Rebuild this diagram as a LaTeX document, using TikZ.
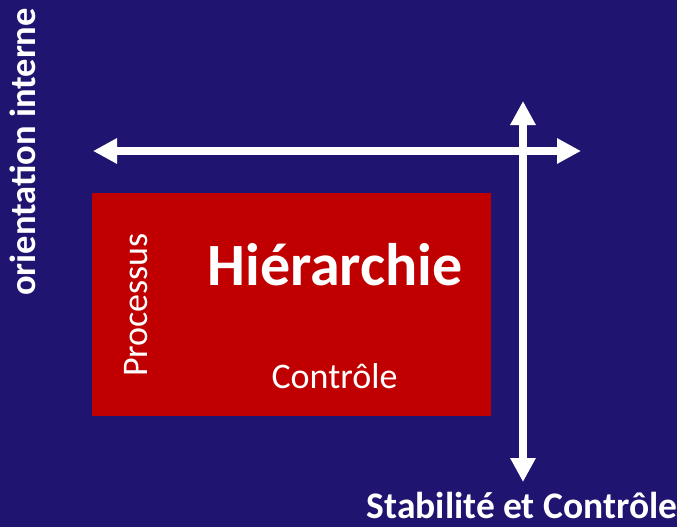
\documentclass[tikz,border=0pt]{standalone}
\usepackage{fontspec}
\setmainfont{Carlito}
\usepackage{tikz}
\usetikzlibrary{arrows.meta}

\definecolor{fondbleu}{RGB}{31,20,112}
\definecolor{rougebox}{RGB}{192,0,0}

\begin{document}
\begin{tikzpicture}[x=1pt, y=-1pt, every node/.style={text=white, inner sep=0pt},
	axe/.style={white, line width=8pt, {Triangle[length=24pt,width=24pt]}-{Triangle[length=24pt,width=24pt]}}]
	\fill[fondbleu] (0,0) rectangle (677,527);
	\useasboundingbox (0,0) rectangle (677,527);
	% bloc central
	\node[fill=rougebox, minimum width=399pt, minimum height=223pt] (H) at (291.5,304.5) {};
	\node[font=\bfseries\fontsize{60}{60}\selectfont, anchor=base] (hier) at (335,285) {Hiérarchie};
	\node[font=\fontsize{36}{36}\selectfont, anchor=base] (ctrl) at (334.5,388) {Contrôle};
	\node[font=\fontsize{36}{36}\selectfont, rotate=90, anchor=base] (proc) at (147,305) {Processus};
	% axes
	\coordinate (hg) at (93,151);
	\coordinate (hd) at (581,151);
	\coordinate (vh) at (523,101);
	\coordinate (vb) at (523,482);
	\draw[axe] (hg) -- (hd);
	\draw[axe] (vh) -- (vb);
	% legendes
	\node[font=\bfseries\fontsize{36.5}{36.5}\selectfont, rotate=90, anchor=base] (orient) at (35,152) {orientation interne};
	\node[font=\bfseries\fontsize{37.5}{37.5}\selectfont, anchor=base] (stab) at (522,518) {Stabilité et Contrôle};
\end{tikzpicture}
\end{document}
